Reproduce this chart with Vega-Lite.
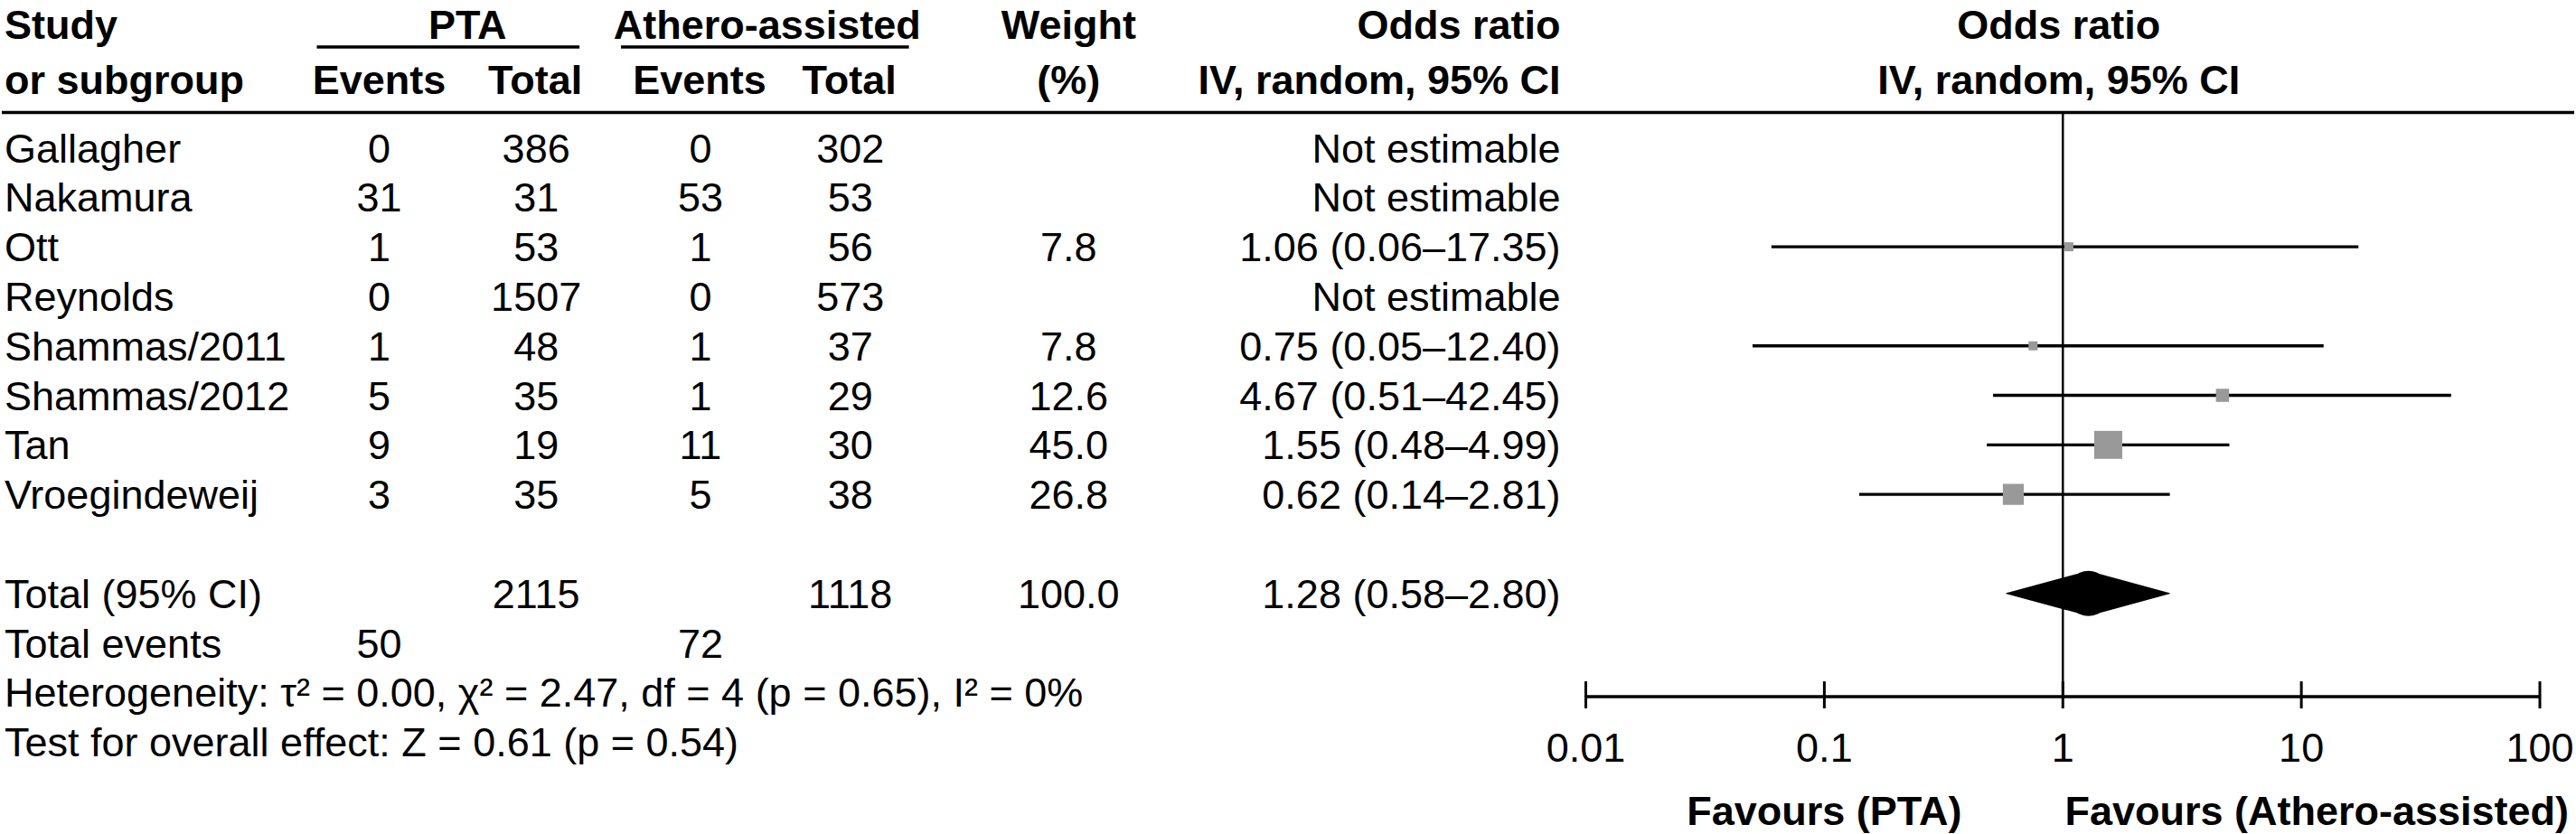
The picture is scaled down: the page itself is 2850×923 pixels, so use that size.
{
  "$schema": "https://vega.github.io/schema/vega-lite/v6.json",
  "width": 2850,
  "height": 923,
  "autosize": {"type": "fit", "contains": "padding"},
  "padding": 0,
  "background": "white",
  "config": {
    "view": {"stroke": null},
    "text": {"font": "Liberation Sans", "fontSize": 45, "color": "black", "baseline": "middle", "dy": 2}
  },
  "datasets": {
    "rows": [
      {"row": 0, "kind": "study", "study": "Gallagher", "e1": 0, "n1": 386, "e2": 0, "n2": 302, "ci": "Not estimable"},
      {"row": 1, "kind": "study", "study": "Nakamura", "e1": 31, "n1": 31, "e2": 53, "n2": 53, "ci": "Not estimable"},
      {"row": 2, "kind": "study", "study": "Ott", "e1": 1, "n1": 53, "e2": 1, "n2": 56, "weight": 7.8, "ci": "1.06 (0.06–17.35)", "or": 1.06, "lo": 0.06, "hi": 17.35},
      {"row": 3, "kind": "study", "study": "Reynolds", "e1": 0, "n1": 1507, "e2": 0, "n2": 573, "ci": "Not estimable"},
      {"row": 4, "kind": "study", "study": "Shammas/2011", "e1": 1, "n1": 48, "e2": 1, "n2": 37, "weight": 7.8, "ci": "0.75 (0.05–12.40)", "or": 0.75, "lo": 0.05, "hi": 12.40},
      {"row": 5, "kind": "study", "study": "Shammas/2012", "e1": 5, "n1": 35, "e2": 1, "n2": 29, "weight": 12.6, "ci": "4.67 (0.51–42.45)", "or": 4.67, "lo": 0.51, "hi": 42.45},
      {"row": 6, "kind": "study", "study": "Tan", "e1": 9, "n1": 19, "e2": 11, "n2": 30, "weight": 45.0, "ci": "1.55 (0.48–4.99)", "or": 1.55, "lo": 0.48, "hi": 4.99},
      {"row": 7, "kind": "study", "study": "Vroegindeweij", "e1": 3, "n1": 35, "e2": 5, "n2": 38, "weight": 26.8, "ci": "0.62 (0.14–2.81)", "or": 0.62, "lo": 0.14, "hi": 2.81},
      {"row": 9, "kind": "total", "study": "Total (95% CI)", "n1": 2115, "n2": 1118, "weight": 100.0, "ci": "1.28 (0.58–2.80)", "or": 1.28, "lo": 0.58, "hi": 2.80},
      {"row": 10, "kind": "note", "study": "Total events", "e1": 50, "e2": 72},
      {"row": 11, "kind": "note", "study": "Heterogeneity: τ² = 0.00, χ² = 2.47, df = 4 (p = 0.65), I² = 0%"},
      {"row": 12, "kind": "note", "study": "Test for overall effect: Z = 0.61 (p = 0.54)"}
    ],
    "headers": [
      {"study1": "Study", "study2": "or subgroup", "pta": "PTA", "ath": "Athero-assisted", "ev": "Events", "tot": "Total", "w1": "Weight", "w2": "(%)", "or1": "Odds ratio", "or2": "IV, random, 95% CI", "fav1": "Favours (PTA)", "fav2": "Favours (Athero-assisted)"}
    ],
    "refs": [
      {"ref": 1, "axmin": 0.01, "axmax": 100}
    ],
    "ticks": [
      {"t": 0.01, "lab": "0.01"},
      {"t": 0.1, "lab": "0.1"},
      {"t": 1, "lab": "1"},
      {"t": 10, "lab": "10"},
      {"t": 100, "lab": "100"}
    ]
  },
  "layer": [
    {
      "layer": [
        {
          "data": {"name": "rows"},
          "mark": {"type": "text", "align": "left"},
          "encoding": {
            "x": {"datum": 3, "type": "quantitative", "scale": {"domain": [0, 2850], "nice": false, "zero": false}, "axis": null},
            "y": {"field": "row", "type": "quantitative", "scale": {"domain": [-2.984, 13.859], "reverse": true, "nice": false, "zero": false}, "axis": null},
            "text": {"field": "study", "type": "nominal"}
          }
        },
        {
          "data": {"name": "rows"},
          "transform": [{"filter": "isValid(datum.e1)"}],
          "mark": {"type": "text", "align": "center"},
          "encoding": {
            "x": {"datum": 418, "type": "quantitative", "scale": {"domain": [0, 2850], "nice": false, "zero": false}, "axis": null},
            "y": {"field": "row", "type": "quantitative", "scale": {"domain": [-2.984, 13.859], "reverse": true, "nice": false, "zero": false}, "axis": null},
            "text": {"field": "e1", "type": "quantitative"}
          }
        },
        {
          "data": {"name": "rows"},
          "transform": [{"filter": "isValid(datum.n1)"}],
          "mark": {"type": "text", "align": "center"},
          "encoding": {
            "x": {"datum": 592, "type": "quantitative", "scale": {"domain": [0, 2850], "nice": false, "zero": false}, "axis": null},
            "y": {"field": "row", "type": "quantitative", "scale": {"domain": [-2.984, 13.859], "reverse": true, "nice": false, "zero": false}, "axis": null},
            "text": {"field": "n1", "type": "quantitative"}
          }
        },
        {
          "data": {"name": "rows"},
          "transform": [{"filter": "isValid(datum.e2)"}],
          "mark": {"type": "text", "align": "center"},
          "encoding": {
            "x": {"datum": 774, "type": "quantitative", "scale": {"domain": [0, 2850], "nice": false, "zero": false}, "axis": null},
            "y": {"field": "row", "type": "quantitative", "scale": {"domain": [-2.984, 13.859], "reverse": true, "nice": false, "zero": false}, "axis": null},
            "text": {"field": "e2", "type": "quantitative"}
          }
        },
        {
          "data": {"name": "rows"},
          "transform": [{"filter": "isValid(datum.n2)"}],
          "mark": {"type": "text", "align": "center"},
          "encoding": {
            "x": {"datum": 940, "type": "quantitative", "scale": {"domain": [0, 2850], "nice": false, "zero": false}, "axis": null},
            "y": {"field": "row", "type": "quantitative", "scale": {"domain": [-2.984, 13.859], "reverse": true, "nice": false, "zero": false}, "axis": null},
            "text": {"field": "n2", "type": "quantitative"}
          }
        },
        {
          "data": {"name": "rows"},
          "transform": [{"filter": "isValid(datum.weight)"}],
          "mark": {"type": "text", "align": "center"},
          "encoding": {
            "x": {"datum": 1182, "type": "quantitative", "scale": {"domain": [0, 2850], "nice": false, "zero": false}, "axis": null},
            "y": {"field": "row", "type": "quantitative", "scale": {"domain": [-2.984, 13.859], "reverse": true, "nice": false, "zero": false}, "axis": null},
            "text": {"field": "weight", "type": "quantitative", "format": ".1f"}
          }
        },
        {
          "data": {"name": "rows"},
          "transform": [{"filter": "isValid(datum.ci)"}],
          "mark": {"type": "text", "align": "right"},
          "encoding": {
            "x": {"datum": 1727, "type": "quantitative", "scale": {"domain": [0, 2850], "nice": false, "zero": false}, "axis": null},
            "y": {"field": "row", "type": "quantitative", "scale": {"domain": [-2.984, 13.859], "reverse": true, "nice": false, "zero": false}, "axis": null},
            "text": {"field": "ci", "type": "nominal"}
          }
        },
        {
          "data": {"name": "headers"},
          "mark": {"type": "text", "align": "left", "fontWeight": "bold"},
          "encoding": {
            "x": {"datum": 3, "type": "quantitative", "scale": {"domain": [0, 2850], "nice": false, "zero": false}, "axis": null},
            "y": {"datum": -2.491, "type": "quantitative", "scale": {"domain": [-2.984, 13.859], "reverse": true, "nice": false, "zero": false}, "axis": null},
            "text": {"field": "study1", "type": "nominal"}
          }
        },
        {
          "data": {"name": "headers"},
          "mark": {"type": "text", "align": "left", "fontWeight": "bold"},
          "encoding": {
            "x": {"datum": 3, "type": "quantitative", "scale": {"domain": [0, 2850], "nice": false, "zero": false}, "axis": null},
            "y": {"datum": -1.378, "type": "quantitative", "scale": {"domain": [-2.984, 13.859], "reverse": true, "nice": false, "zero": false}, "axis": null},
            "text": {"field": "study2", "type": "nominal"}
          }
        },
        {
          "data": {"name": "headers"},
          "mark": {"type": "text", "align": "center", "fontWeight": "bold"},
          "encoding": {
            "x": {"datum": 516, "type": "quantitative", "scale": {"domain": [0, 2850], "nice": false, "zero": false}, "axis": null},
            "y": {"datum": -2.491, "type": "quantitative", "scale": {"domain": [-2.984, 13.859], "reverse": true, "nice": false, "zero": false}, "axis": null},
            "text": {"field": "pta", "type": "nominal"}
          }
        },
        {
          "data": {"name": "headers"},
          "mark": {"type": "text", "align": "center", "fontWeight": "bold"},
          "encoding": {
            "x": {"datum": 848, "type": "quantitative", "scale": {"domain": [0, 2850], "nice": false, "zero": false}, "axis": null},
            "y": {"datum": -2.491, "type": "quantitative", "scale": {"domain": [-2.984, 13.859], "reverse": true, "nice": false, "zero": false}, "axis": null},
            "text": {"field": "ath", "type": "nominal"}
          }
        },
        {
          "data": {"name": "headers"},
          "mark": {"type": "text", "align": "center", "fontWeight": "bold"},
          "encoding": {
            "x": {"datum": 418, "type": "quantitative", "scale": {"domain": [0, 2850], "nice": false, "zero": false}, "axis": null},
            "y": {"datum": -1.378, "type": "quantitative", "scale": {"domain": [-2.984, 13.859], "reverse": true, "nice": false, "zero": false}, "axis": null},
            "text": {"field": "ev", "type": "nominal"}
          }
        },
        {
          "data": {"name": "headers"},
          "mark": {"type": "text", "align": "center", "fontWeight": "bold"},
          "encoding": {
            "x": {"datum": 591, "type": "quantitative", "scale": {"domain": [0, 2850], "nice": false, "zero": false}, "axis": null},
            "y": {"datum": -1.378, "type": "quantitative", "scale": {"domain": [-2.984, 13.859], "reverse": true, "nice": false, "zero": false}, "axis": null},
            "text": {"field": "tot", "type": "nominal"}
          }
        },
        {
          "data": {"name": "headers"},
          "mark": {"type": "text", "align": "center", "fontWeight": "bold"},
          "encoding": {
            "x": {"datum": 773, "type": "quantitative", "scale": {"domain": [0, 2850], "nice": false, "zero": false}, "axis": null},
            "y": {"datum": -1.378, "type": "quantitative", "scale": {"domain": [-2.984, 13.859], "reverse": true, "nice": false, "zero": false}, "axis": null},
            "text": {"field": "ev", "type": "nominal"}
          }
        },
        {
          "data": {"name": "headers"},
          "mark": {"type": "text", "align": "center", "fontWeight": "bold"},
          "encoding": {
            "x": {"datum": 939, "type": "quantitative", "scale": {"domain": [0, 2850], "nice": false, "zero": false}, "axis": null},
            "y": {"datum": -1.378, "type": "quantitative", "scale": {"domain": [-2.984, 13.859], "reverse": true, "nice": false, "zero": false}, "axis": null},
            "text": {"field": "tot", "type": "nominal"}
          }
        },
        {
          "data": {"name": "headers"},
          "mark": {"type": "text", "align": "center", "fontWeight": "bold"},
          "encoding": {
            "x": {"datum": 1182, "type": "quantitative", "scale": {"domain": [0, 2850], "nice": false, "zero": false}, "axis": null},
            "y": {"datum": -2.491, "type": "quantitative", "scale": {"domain": [-2.984, 13.859], "reverse": true, "nice": false, "zero": false}, "axis": null},
            "text": {"field": "w1", "type": "nominal"}
          }
        },
        {
          "data": {"name": "headers"},
          "mark": {"type": "text", "align": "center", "fontWeight": "bold"},
          "encoding": {
            "x": {"datum": 1182, "type": "quantitative", "scale": {"domain": [0, 2850], "nice": false, "zero": false}, "axis": null},
            "y": {"datum": -1.378, "type": "quantitative", "scale": {"domain": [-2.984, 13.859], "reverse": true, "nice": false, "zero": false}, "axis": null},
            "text": {"field": "w2", "type": "nominal"}
          }
        },
        {
          "data": {"name": "headers"},
          "mark": {"type": "text", "align": "right", "fontWeight": "bold"},
          "encoding": {
            "x": {"datum": 1727, "type": "quantitative", "scale": {"domain": [0, 2850], "nice": false, "zero": false}, "axis": null},
            "y": {"datum": -2.491, "type": "quantitative", "scale": {"domain": [-2.984, 13.859], "reverse": true, "nice": false, "zero": false}, "axis": null},
            "text": {"field": "or1", "type": "nominal"}
          }
        },
        {
          "data": {"name": "headers"},
          "mark": {"type": "text", "align": "right", "fontWeight": "bold"},
          "encoding": {
            "x": {"datum": 1727, "type": "quantitative", "scale": {"domain": [0, 2850], "nice": false, "zero": false}, "axis": null},
            "y": {"datum": -1.378, "type": "quantitative", "scale": {"domain": [-2.984, 13.859], "reverse": true, "nice": false, "zero": false}, "axis": null},
            "text": {"field": "or2", "type": "nominal"}
          }
        },
        {
          "data": {"name": "headers"},
          "mark": {"type": "text", "align": "center", "fontWeight": "bold"},
          "encoding": {
            "x": {"datum": 2279, "type": "quantitative", "scale": {"domain": [0, 2850], "nice": false, "zero": false}, "axis": null},
            "y": {"datum": -2.491, "type": "quantitative", "scale": {"domain": [-2.984, 13.859], "reverse": true, "nice": false, "zero": false}, "axis": null},
            "text": {"field": "or1", "type": "nominal"}
          }
        },
        {
          "data": {"name": "headers"},
          "mark": {"type": "text", "align": "center", "fontWeight": "bold"},
          "encoding": {
            "x": {"datum": 2279, "type": "quantitative", "scale": {"domain": [0, 2850], "nice": false, "zero": false}, "axis": null},
            "y": {"datum": -1.378, "type": "quantitative", "scale": {"domain": [-2.984, 13.859], "reverse": true, "nice": false, "zero": false}, "axis": null},
            "text": {"field": "or2", "type": "nominal"}
          }
        },
        {
          "data": {"name": "headers"},
          "mark": {"type": "rule", "color": "black", "strokeWidth": 3.3},
          "encoding": {
            "x": {"datum": 349, "type": "quantitative", "scale": {"domain": [0, 2850], "nice": false, "zero": false}, "axis": null},
            "x2": {"datum": 640},
            "y": {"datum": -2.035, "type": "quantitative", "scale": {"domain": [-2.984, 13.859], "reverse": true, "nice": false, "zero": false}, "axis": null}
          }
        },
        {
          "data": {"name": "headers"},
          "mark": {"type": "rule", "color": "black", "strokeWidth": 3.3},
          "encoding": {
            "x": {"datum": 686, "type": "quantitative", "scale": {"domain": [0, 2850], "nice": false, "zero": false}, "axis": null},
            "x2": {"datum": 1005},
            "y": {"datum": -2.035, "type": "quantitative", "scale": {"domain": [-2.984, 13.859], "reverse": true, "nice": false, "zero": false}, "axis": null}
          }
        },
        {
          "data": {"name": "headers"},
          "mark": {"type": "rule", "color": "black", "strokeWidth": 3.6},
          "encoding": {
            "x": {"datum": 0, "type": "quantitative", "scale": {"domain": [0, 2850], "nice": false, "zero": false}, "axis": null},
            "x2": {"datum": 2850},
            "y": {"datum": -0.712, "type": "quantitative", "scale": {"domain": [-2.984, 13.859], "reverse": true, "nice": false, "zero": false}, "axis": null}
          }
        }
      ]
    },
    {
      "layer": [
        {
          "data": {"name": "refs"},
          "mark": {"type": "rule", "color": "black", "strokeWidth": 2.5},
          "encoding": {
            "x": {"field": "ref", "type": "quantitative", "scale": {"type": "log", "domain": [2.284e-9, 139.3], "nice": false}, "axis": null},
            "y": {"datum": -0.712, "type": "quantitative", "scale": {"domain": [-2.984, 13.859], "reverse": true, "nice": false, "zero": false}, "axis": null},
            "y2": {"datum": 11.086}
          }
        },
        {
          "data": {"name": "refs"},
          "mark": {"type": "rule", "color": "black", "strokeWidth": 3.5},
          "encoding": {
            "x": {"field": "axmin", "type": "quantitative", "scale": {"type": "log", "domain": [2.284e-9, 139.3], "nice": false}, "axis": null},
            "x2": {"field": "axmax"},
            "y": {"datum": 11.086, "type": "quantitative", "scale": {"domain": [-2.984, 13.859], "reverse": true, "nice": false, "zero": false}, "axis": null}
          }
        },
        {
          "data": {"name": "ticks"},
          "mark": {"type": "rule", "color": "black", "strokeWidth": 3},
          "encoding": {
            "x": {"field": "t", "type": "quantitative", "scale": {"type": "log", "domain": [2.284e-9, 139.3], "nice": false}, "axis": null},
            "y": {"datum": 10.776, "type": "quantitative", "scale": {"domain": [-2.984, 13.859], "reverse": true, "nice": false, "zero": false}, "axis": null},
            "y2": {"datum": 11.323}
          }
        },
        {
          "data": {"name": "ticks"},
          "mark": {"type": "text", "align": "center"},
          "encoding": {
            "x": {"field": "t", "type": "quantitative", "scale": {"type": "log", "domain": [2.284e-9, 139.3], "nice": false}, "axis": null},
            "y": {"datum": 12.108, "type": "quantitative", "scale": {"domain": [-2.984, 13.859], "reverse": true, "nice": false, "zero": false}, "axis": null},
            "text": {"field": "lab", "type": "nominal"}
          }
        },
        {
          "data": {"name": "rows"},
          "transform": [{"filter": "datum.kind == 'study' && isValid(datum.or)"}],
          "mark": {"type": "rule", "color": "black", "strokeWidth": 3.4},
          "encoding": {
            "x": {"field": "lo", "type": "quantitative", "scale": {"type": "log", "domain": [2.284e-9, 139.3], "nice": false}, "axis": null},
            "x2": {"field": "hi"},
            "y": {"field": "row", "type": "quantitative", "scale": {"domain": [-2.984, 13.859], "reverse": true, "nice": false, "zero": false}, "axis": null}
          }
        },
        {
          "data": {"name": "rows"},
          "transform": [{"filter": "datum.kind == 'study' && isValid(datum.or)"}],
          "mark": {"type": "square", "color": "#999999", "opacity": 1, "filled": true},
          "encoding": {
            "x": {"field": "or", "type": "quantitative", "scale": {"type": "log", "domain": [2.284e-9, 139.3], "nice": false}, "axis": null},
            "y": {"field": "row", "type": "quantitative", "scale": {"domain": [-2.984, 13.859], "reverse": true, "nice": false, "zero": false}, "axis": null},
            "size": {"field": "weight", "type": "quantitative", "scale": {"domain": [7.8, 45], "range": [100, 961], "zero": false}, "legend": null}
          }
        },
        {
          "data": {"name": "rows"},
          "transform": [
            {"filter": "datum.kind == 'total'"},
            {"fold": ["lo", "or", "hi"], "as": ["part", "val"]}
          ],
          "mark": {"type": "trail", "color": "black"},
          "encoding": {
            "x": {"field": "val", "type": "quantitative", "scale": {"type": "log", "domain": [2.284e-9, 139.3], "nice": false}, "axis": null},
            "y": {"field": "row", "type": "quantitative", "scale": {"domain": [-2.984, 13.859], "reverse": true, "nice": false, "zero": false}, "axis": null},
            "size": {"field": "part", "type": "nominal", "scale": {"type": "ordinal", "domain": ["lo", "or", "hi"], "range": [0, 50, 0]}, "legend": null}
          }
        },
        {
          "data": {"name": "headers"},
          "mark": {"type": "text", "align": "center", "fontWeight": "bold"},
          "encoding": {
            "x": {"datum": 0.1, "type": "quantitative", "scale": {"type": "log", "domain": [2.284e-9, 139.3], "nice": false}, "axis": null},
            "y": {"datum": 13.385, "type": "quantitative", "scale": {"domain": [-2.984, 13.859], "reverse": true, "nice": false, "zero": false}, "axis": null},
            "text": {"field": "fav1", "type": "nominal"}
          }
        },
        {
          "data": {"name": "headers"},
          "mark": {"type": "text", "align": "right", "fontWeight": "bold", "dx": 32},
          "encoding": {
            "x": {"datum": 100, "type": "quantitative", "scale": {"type": "log", "domain": [2.284e-9, 139.3], "nice": false}, "axis": null},
            "y": {"datum": 13.385, "type": "quantitative", "scale": {"domain": [-2.984, 13.859], "reverse": true, "nice": false, "zero": false}, "axis": null},
            "text": {"field": "fav2", "type": "nominal"}
          }
        }
      ]
    }
  ],
  "resolve": {"scale": {"x": "independent"}, "axis": {"x": "independent"}}
}
